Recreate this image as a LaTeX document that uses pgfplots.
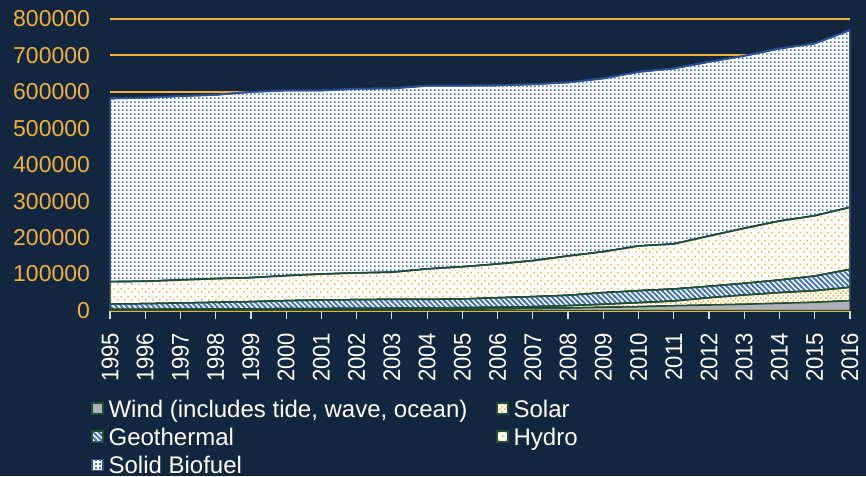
\documentclass[border=0pt]{standalone}
\usepackage{fontspec}
\setmainfont{Liberation Sans}
\usepackage{pgfplots}
\pgfplotsset{compat=1.18}
\usepackage{pgfplotstable}
\usetikzlibrary{patterns}

\definecolor{bg}{HTML}{122640}
\definecolor{gold}{HTML}{F2B23C}
\definecolor{pblue}{HTML}{4472C4}
\definecolor{porange}{HTML}{F7B934}
\definecolor{wgray}{HTML}{AEB2B8}
\definecolor{lgreen}{HTML}{1F4E33}
\definecolor{lblue}{HTML}{2A5290}
\definecolor{axgray}{HTML}{D9D9D9}

\pgfdeclarepatternformonly{bluedots}{\pgfpointorigin}{\pgfpoint{1.9pt}{1.9pt}}{\pgfpoint{1.9pt}{1.9pt}}%
{\pgfpathrectangle{\pgfpointorigin}{\pgfpoint{0.9pt}{0.9pt}}\pgfusepath{fill}}
\pgfdeclarepatternformonly{hydrodots}{\pgfpointorigin}{\pgfpoint{3.7pt}{4pt}}{\pgfpoint{3.7pt}{4pt}}%
{\pgfpathrectangle{\pgfpointorigin}{\pgfpoint{0.9pt}{0.9pt}}\pgfpathrectangle{\pgfpoint{1.85pt}{2pt}}{\pgfpoint{0.9pt}{0.9pt}}\pgfusepath{fill}}
\pgfdeclarepatternformonly{solardots}{\pgfpointorigin}{\pgfpoint{2.4pt}{2.4pt}}{\pgfpoint{2.4pt}{2.4pt}}%
{\pgfpathrectangle{\pgfpointorigin}{\pgfpoint{0.85pt}{0.85pt}}\pgfpathrectangle{\pgfpoint{1.2pt}{1.2pt}}{\pgfpoint{0.85pt}{0.85pt}}\pgfusepath{fill}}
\pgfdeclarepatternformonly{geostripes}{\pgfpoint{-0.6pt}{-0.6pt}}{\pgfpoint{3.25pt}{3.25pt}}{\pgfpoint{2.65pt}{2.65pt}}%
{\pgfsetlinewidth{0.9pt}\pgfpathmoveto{\pgfpoint{-0.6pt}{3.25pt}}\pgfpathlineto{\pgfpoint{3.25pt}{-0.6pt}}\pgfusepath{stroke}}

\pgfplotstableread{
year wind solar geo hydro bio
1995 1500 1500 14800 61200 503000
1996 1700 1600 15400 61300 504000
1997 1900 1700 16900 63200 504800
1998 2200 1800 18400 64900 504700
1999 2500 2000 19700 65800 510000
2000 2800 2200 22000 68500 508500
2001 3100 2300 23400 71200 504000
2002 3400 2400 23900 73300 505500
2003 3700 2600 24300 74400 504500
2004 4000 3000 23600 83400 503000
2005 4500 3300 23700 88500 497000
2006 5000 3800 26200 92500 490500
2007 6000 4400 27600 98700 484300
2008 6800 6400 28500 107800 476500
2009 8800 8200 32000 112300 475700
2010 10400 11000 33000 122600 478000
2011 13000 13000 33000 123500 482000
2012 15000 20000 31400 138000 478100
2013 17000 25500 32100 150900 473500
2014 19700 29300 34700 161800 473500
2015 22400 31900 40300 165400 473000
2016 27000 36600 49400 170000 486500
}\datatable

\newcommand{\lblfont}{\fontsize{11.5}{13.8}\selectfont}
\newcommand{\legfont}{\fontsize{12}{14.4}\selectfont}
\newcommand{\yrfont}{\fontsize{12}{14.4}\selectfont}

\begin{document}
\begin{tikzpicture}
\fill[bg] (0,0) rectangle (433pt,238pt);
\begin{axis}[
  at={(55pt,82.75pt)}, anchor=south west,
  scale only axis, width=370pt, height=145.75pt,
  xmin=1995, xmax=2016, ymin=0, ymax=800000,
  stack plots=y,
  separate axis lines,
  axis x line*=bottom, axis y line*=left,
  x axis line style={-, draw=axgray, line width=0.8pt},
  y axis line style={draw=none},
  xtick={1995,...,2016},
  ytick={0,100000,...,800000},
  scaled y ticks=false,
  xtick align=outside,
  major tick length=4pt,
  xtick style={draw=axgray, line width=0.6pt},
  ytick style={draw=none},
  ymajorgrids,
  grid style={draw=gold, line width=1pt},
  /pgf/number format/assume math mode=true,
  /pgf/number format/1000 sep={},
  yticklabel style={font=\lblfont, text=gold, /pgf/number format/fixed, xshift=-6.5pt},
  xticklabel style={font=\yrfont, text=white, yshift=-7pt, inner sep=0pt, rotate=90, xscale=0.92, anchor=east},
  legend cell align=left,
  legend columns=2,
  legend image code/.code={\draw[#1, line width=0.6pt] (0pt,-2.45pt) rectangle (5.5pt,3.05pt);},
  legend style={at={(-0.0257,-0.2988)}, anchor=north west, draw=none, fill=none,
    inner sep=0pt, text=white, font=\legfont,
    nodes={inner sep=0.5pt, text height=9pt, text depth=1pt},
    row sep=3.15pt,
    /tikz/every odd column/.append style={column sep=2pt},
    /tikz/every even column/.append style={column sep=14pt}},
]
\addplot[draw=lgreen, line width=0.75pt, fill=wgray] table[x=year,y=wind]{\datatable} \closedcycle;
\addlegendentry{Wind (includes tide, wave, ocean)}
\addplot[draw=lgreen, line width=0.75pt, preaction={fill=white}, pattern=solardots, pattern color=porange] table[x=year,y=solar]{\datatable} \closedcycle;
\addlegendentry{Solar}
\addplot[draw=lgreen, line width=0.75pt, preaction={fill=white}, pattern=geostripes, pattern color=pblue] table[x=year,y=geo]{\datatable} \closedcycle;
\addlegendentry{Geothermal}
\addplot[draw=lgreen, line width=0.75pt, preaction={fill=white}, pattern=hydrodots, pattern color=porange] table[x=year,y=hydro]{\datatable} \closedcycle;
\addlegendentry{Hydro}
\addplot[draw=lblue, line width=0.9pt, preaction={fill=white}, pattern=bluedots, pattern color=pblue] table[x=year,y=bio]{\datatable} \closedcycle;
\addlegendentry{Solid Biofuel}
\end{axis}
\end{tikzpicture}
\end{document}
